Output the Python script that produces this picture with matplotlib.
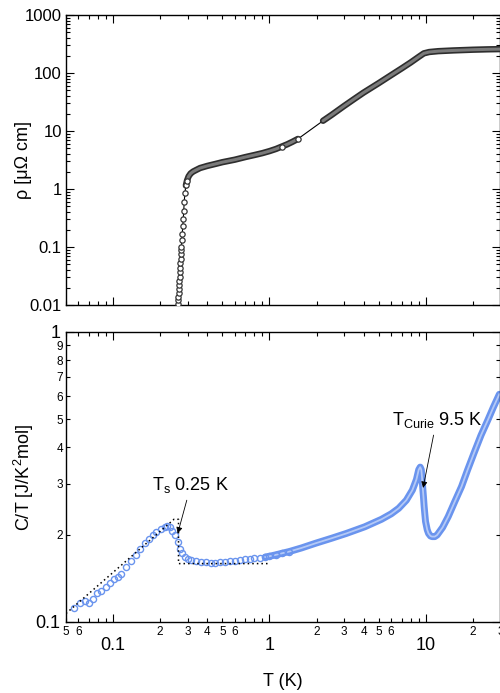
import matplotlib
matplotlib.use('Agg')
import matplotlib.pyplot as plt
import numpy as np

plt.rcParams['font.family'] = ['Liberation Sans', 'DejaVu Sans']
plt.rcParams['mathtext.default'] = 'regular'

# resistivity rho(T), microOhm cm
rho_T = [0.259, 0.260, 0.261, 0.262, 0.263, 0.264, 0.265, 0.266, 0.267, 0.268,
         0.269, 0.270, 0.271, 0.272, 0.273, 0.275, 0.277, 0.279, 0.281, 0.283,
         0.285, 0.288, 0.292, 0.297, 0.304, 0.313, 0.325, 0.34, 0.36, 0.38,
         0.40, 0.45, 0.5, 0.6, 0.7, 0.8, 0.9, 1.0, 1.1, 1.2, 1.3, 1.4, 1.52,
         2.2, 2.5, 3.0, 3.5, 4.0, 5.0, 6.0, 7.0, 8.0, 9.0, 9.7, 10.5, 12.0,
         15.0, 20.0, 25.0, 30.0]
rho_val = [0.0105, 0.012, 0.014, 0.016, 0.019, 0.022, 0.026, 0.031, 0.037, 0.044,
           0.053, 0.063, 0.075, 0.088, 0.10, 0.13, 0.17, 0.23, 0.30, 0.42,
           0.60, 0.85, 1.15, 1.4, 1.65, 1.85, 2.0, 2.13, 2.3, 2.4,
           2.5, 2.7, 2.9, 3.2, 3.55, 3.85, 4.15, 4.5, 4.9, 5.4, 5.9, 6.5, 7.3,
           15.0, 19.0, 27.0, 36.0, 46.0, 67.0, 92.0, 120.0, 152.0, 190.0, 218.0, 230.0, 238.0,
           245.0, 252.0, 256.0, 258.0]

# specific heat C/T, J/K^2 mol
c_T = [0.0562, 0.0614, 0.0661, 0.0703, 0.0740, 0.0792, 0.0843, 0.0900, 0.0952, 0.1019,
       0.1077, 0.113, 0.1208, 0.1295, 0.1411, 0.1478, 0.1608, 0.1698, 0.180, 0.1895,
       0.201, 0.2139, 0.2226, 0.2302, 0.2395, 0.248, 0.2603, 0.266, 0.277, 0.2873,
       0.300, 0.315, 0.338, 0.365, 0.39, 0.42, 0.45, 0.48, 0.52, 0.56,
       0.60, 0.65, 0.70, 0.75, 0.80, 0.87, 0.94, 1.0, 1.1, 1.2,
       1.34, 1.6, 1.98, 2.5, 3.1, 4.07, 5.2, 6.0, 6.7, 7.5,
       8.2, 8.7, 9.0, 9.2, 9.35, 9.45, 9.55, 9.65, 9.75, 9.85,
       9.95, 10.2, 10.4, 10.7, 10.95, 11.4, 11.8, 12.8, 13.9, 15.3,
       16.9, 18.5, 20.3, 22.5, 24.9, 27.0, 29.5]
c_val = [0.1115, 0.1166, 0.118, 0.1166, 0.1197, 0.126, 0.128, 0.1324, 0.136, 0.141,
         0.143, 0.1465, 0.1545, 0.1627, 0.170, 0.179, 0.187, 0.193, 0.1995, 0.204,
         0.209, 0.213, 0.215, 0.212, 0.2065, 0.1995, 0.189, 0.178, 0.1725, 0.168,
         0.165, 0.1636, 0.1623, 0.161, 0.1604, 0.1602, 0.1603, 0.1606, 0.161, 0.1618,
         0.1625, 0.1633, 0.1644, 0.1652, 0.1658, 0.1668, 0.1675, 0.1685, 0.1705, 0.1725,
         0.175, 0.180, 0.187, 0.1945, 0.202, 0.213, 0.226, 0.236, 0.2466, 0.263,
         0.285, 0.31, 0.335, 0.342, 0.335, 0.315, 0.29, 0.27, 0.25, 0.235,
         0.222, 0.208, 0.202, 0.198, 0.197, 0.197, 0.1995, 0.212, 0.231, 0.26,
         0.293, 0.335, 0.382, 0.44, 0.497, 0.55, 0.61]

# dotted entropy-balance construction
ent_T = [0.05, 0.245, 0.262, 0.262, 1.0]
ent_c = [0.107, 0.226, 0.226, 0.159, 0.159]

x_major = [0.1, 1, 10]
x_major_lab = ['0.1', '1', '10']
x_minor = [0.05, 0.06, 0.07, 0.08, 0.09, 0.2, 0.3, 0.4, 0.5, 0.6, 0.7, 0.8, 0.9,
           2, 3, 4, 5, 6, 7, 8, 9, 20, 30]
x_minor_lab = ['5', '6', '', '', '', '2', '3', '4', '5', '6', '', '', '',
               '2', '3', '4', '5', '6', '', '', '', '2', '3']
rho_ticks = [0.01, 0.1, 1, 10, 100, 1000]
rho_tick_lab = ['0.01', '0.1', '1', '10', '100', '1000']
c_major = [0.1, 1]
c_major_lab = ['0.1', '1']
c_minor = [0.2, 0.3, 0.4, 0.5, 0.6, 0.7, 0.8, 0.9]
c_minor_lab = ['2', '3', '4', '5', '6', '7', '8', '9']

blue = '#6a94ee'

fig = plt.figure(figsize=(5, 6.93), dpi=100)
W = (500.5 - 66) / 500
ax1 = fig.add_axes([66 / 500, (693 - 305) / 693, W, 290 / 693])
ax2 = fig.add_axes([66 / 500, (693 - 622) / 693, W, 290 / 693])

# --- top: resistivity
rT = np.array(rho_T)
rv = np.array(rho_val)
ax1.plot(rT, rv, '-', color='k', lw=0.8, zorder=2)
lo = (rT <= 1.52) & (rv >= 1.0)
hi = rT >= 2.2
for m in (lo, hi):
    ax1.plot(rT[m], rv[m], '-', color='#2e2e2e', lw=4.6, solid_capstyle='round', zorder=3)
    ax1.plot(rT[m], rv[m], '-', color='#7a7a7a', lw=2.2, solid_capstyle='round', zorder=3)
pts = (rv < 1.5) | (rT == 1.2) | (rT == 1.52)
ax1.plot(rT[pts], rv[pts], 'o', mfc='white', mec='#333333', mew=0.9, ms=3.8, zorder=4)

ax1.set_xscale('log')
ax1.set_yscale('log')
ax1.set_xlim(0.05, 30)
ax1.set_ylim(0.01, 1000)
ax1.set_xticks(x_major, ['', '', ''])
ax1.set_xticks(x_minor, [''] * len(x_minor), minor=True)
ax1.set_yticks(rho_ticks, rho_tick_lab)
ax1.set_yticks([d * s for d in rho_ticks[:-1] for s in range(2, 10)], minor=True)
ax1.yaxis.set_minor_formatter(matplotlib.ticker.NullFormatter())
ax1.tick_params(axis='y', which='major', labelsize=12, pad=3)
ax1.set_ylabel('ρ [μΩ cm]', fontsize=13)
ax1.yaxis.set_label_coords(-0.078, 0.5)

# --- bottom: specific heat
cT = np.array(c_T)
cv = np.array(c_val)
band = cT >= 0.9
ax2.plot(cT[band], cv[band], '-', color=blue, lw=5, solid_capstyle='round', zorder=2)
ax2.plot(cT[band], cv[band], '-', color='#b4c9f6', lw=1.3, zorder=2)
circ = cT < 1.4
ax2.plot(cT[circ], cv[circ], 'o', mfc='none', mec=blue, mew=1.0, ms=4.4, zorder=3)
ax2.plot(ent_T, ent_c, linestyle=(0, (1, 2)), color='k', lw=1.1, zorder=4)

ax2.text(0.177, 0.296, 'T$_s$ 0.25 K', fontsize=13, ha='left', va='center')
ax2.annotate('', xy=(0.259, 0.202), xytext=(0.296, 0.263),
             arrowprops=dict(arrowstyle='-|>', color='k', lw=0.6, mutation_scale=9,
                             shrinkA=0, shrinkB=0))
ax2.text(6.05, 0.499, 'T$_{Curie}$ 9.5 K', fontsize=13, ha='left', va='center')
ax2.annotate('', xy=(9.6, 0.29), xytext=(11.2, 0.441),
             arrowprops=dict(arrowstyle='-|>', color='k', lw=0.6, mutation_scale=9,
                             shrinkA=0, shrinkB=0))

ax2.set_xscale('log')
ax2.set_yscale('log')
ax2.set_xlim(0.05, 30)
ax2.set_ylim(0.1, 1)
ax2.set_xticks(x_major, x_major_lab)
ax2.set_xticks(x_minor, x_minor_lab, minor=True)
ax2.set_yticks(c_major, c_major_lab)
ax2.set_yticks(c_minor, c_minor_lab, minor=True)
ax2.tick_params(axis='x', which='major', labelsize=13, pad=11)
ax2.tick_params(axis='x', which='minor', labelsize=8.5, pad=3)
ax2.tick_params(axis='y', which='major', labelsize=13, pad=4)
ax2.tick_params(axis='y', which='minor', labelsize=8.5, pad=2)
ax2.set_ylabel('C/T [J/K$^2$mol]', fontsize=13)
ax2.yaxis.set_label_coords(-0.069, 0.5)
ax2.set_xlabel('T (K)', fontsize=13)
ax2.xaxis.set_label_coords(0.5, -0.175)

for ax in (ax1, ax2):
    ax.tick_params(which='both', direction='in', top=True, right=True, width=0.8)
    ax.tick_params(which='major', length=6)
    ax.tick_params(which='minor', length=3)
    for s in ax.spines.values():
        s.set_linewidth(1.0)

fig.savefig('out.png', dpi=100)
